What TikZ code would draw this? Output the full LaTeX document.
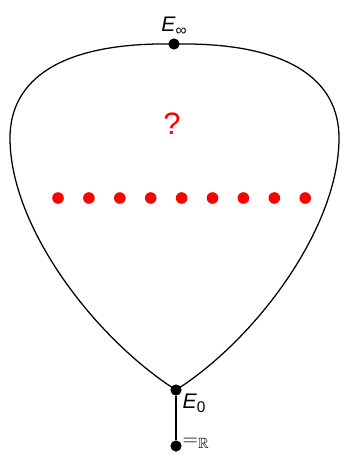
\documentclass[tikz,border=0pt]{standalone}
\usepackage{amssymb}
\usepackage{fontspec}
\setmainfont{Liberation Sans}
\usetikzlibrary{positioning,calc}
\definecolor{ink}{HTML}{000000}
\definecolor{accent}{HTML}{FF0000}
\newcommand{\lowidx}[1]{\raisebox{-0.35ex}{\fontsize{11}{13}\selectfont #1}}

\begin{document}
\begin{tikzpicture}[
  x=0.025cm,y=-0.025cm,
  pt/.style={circle,fill=ink,inner sep=0pt,minimum size=2.8mm},
  rdot/.style={circle,fill=accent,inner sep=0pt,minimum size=2.9mm},
  lbl/.style={font=\fontsize{15}{18}\selectfont,text=ink,inner sep=1pt},
  curve/.style={draw=ink,line width=0.9pt},
]
\useasboundingbox (0,0) rectangle (340,454);

%---------------------------------------------------------------- points ---
\node[pt] (Einf) at (174,44) {};
\node[pt] (E0) at (176,390) {};
\node[pt] (R) at (176,446) {};

\node[lbl,above=0.3mm of Einf] {\textit{E}\lowidx{∞}};
\node[lbl,anchor=west] at ($(E0)+(5,13)$) {\textit{E}\lowidx{0}};
\node[lbl,anchor=west] at ($(R)+(5,-3)$) {$=_{\mathbb{R}}$};

%----------------------------------------------------------------- curve ---
\draw[curve] (Einf.center) .. controls (60,42) and (10,80) .. (10,138)
  .. controls (10,228) and (96,339) .. (E0.center);
\draw[curve] (Einf.center) .. controls (289,42) and (339,80) .. (339,138)
  .. controls (339,228) and (256,339) .. (E0.center);
\draw[curve] (E0) -- (R);

%------------------------------------------------------------------ dots ---
\foreach \i in {0,...,8}{
  \pgfmathsetmacro{\xx}{58+\i*30.9}
  \node[rdot] (d\i) at (\xx,198) {};
}
\node[font=\fontsize{22}{26}\selectfont,text=accent] (q) at (172,124) {?};

\end{tikzpicture}
\end{document}
